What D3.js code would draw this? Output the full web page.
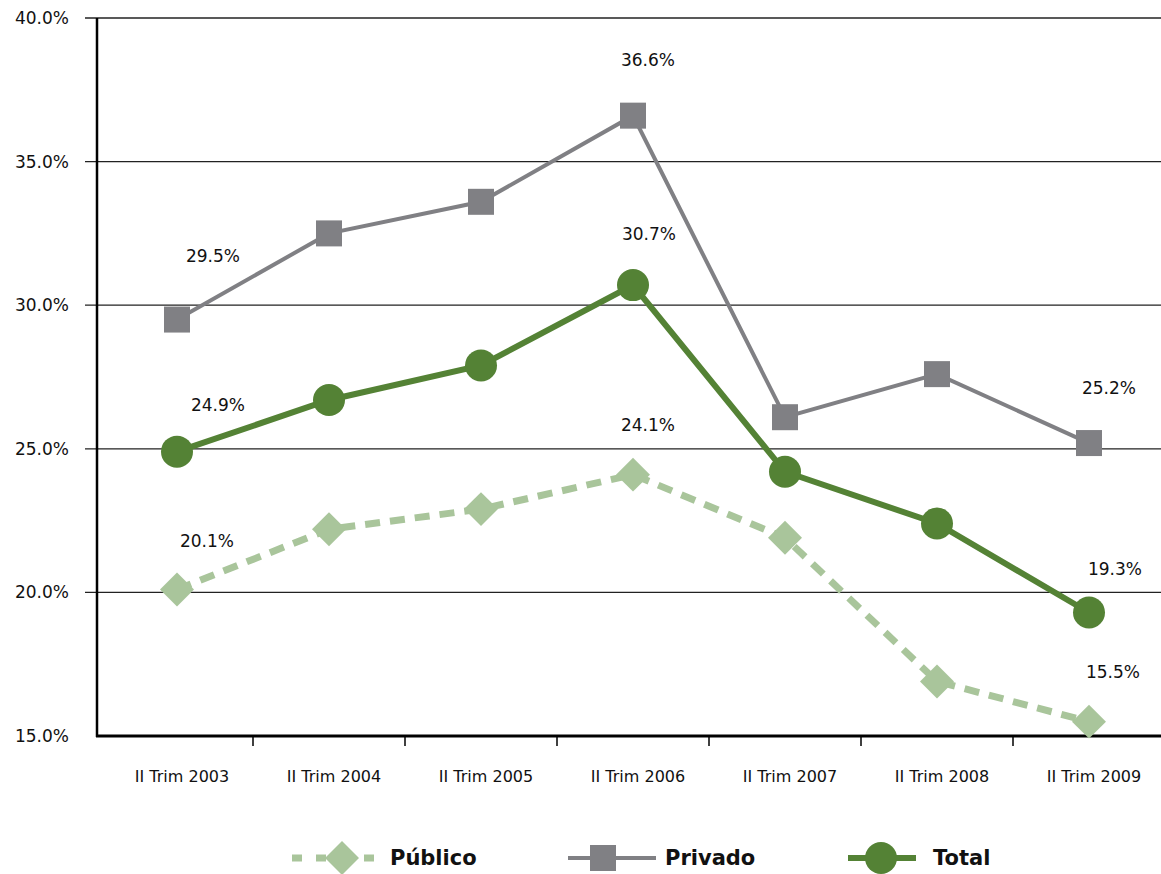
<!DOCTYPE html>
<html><head><meta charset="utf-8">
<script src="https://cdn.jsdelivr.net/npm/d3@7"></script>
<style>body{margin:0;background:#fff;} svg{display:block;}</style>
</head><body>
<svg id="c" width="1161" height="874"></svg>
<script>
const categories = ["II Trim 2003","II Trim 2004","II Trim 2005","II Trim 2006","II Trim 2007","II Trim 2008","II Trim 2009"];
const privado = [29.5, 32.5, 33.6, 36.6, 26.1, 27.6, 25.2];
const total = [24.9, 26.7, 27.9, 30.7, 24.2, 22.4, 19.3];
const publico = [20.1, 22.2, 22.9, 24.1, 21.9, 16.9, 15.5];
const labelIdx = [0, 3, 6];
const yTicks = [15, 20, 25, 30, 35, 40];

const svg = d3.select("#c");
const font = "'DejaVu Sans', sans-serif";
const x = d3.scaleBand().domain(categories).range([101, 1165]);
const y = d3.scaleLinear().domain([15, 40]).range([736, 18]);
const cx = c => x(c) + x.bandwidth()/2;

// gridlines
svg.append("g").selectAll("line").data(yTicks.filter(t => t > 15)).join("line")
  .attr("x1", 85).attr("x2", 1161).attr("y1", d => y(d)).attr("y2", d => y(d))
  .attr("stroke", "#222").attr("stroke-width", 1.3);
// y labels
svg.append("g").selectAll("text").data(yTicks).join("text")
  .attr("x", 69).attr("y", d => y(d)).attr("dy", "0.35em").attr("text-anchor", "end")
  .attr("font-family", font).attr("font-size", 17).attr("fill", "#111")
  .text(d => d.toFixed(1) + "%");
// left axis
svg.append("line").attr("x1", 97).attr("x2", 97).attr("y1", 18).attr("y2", 737)
  .attr("stroke", "#000").attr("stroke-width", 2.5);
// bottom axis
svg.append("line").attr("x1", 96).attr("x2", 1161).attr("y1", 736).attr("y2", 736)
  .attr("stroke", "#000").attr("stroke-width", 3);
svg.append("g").selectAll("line").data(categories.slice(1)).join("line")
  .attr("x1", d => x(d)).attr("x2", d => x(d)).attr("y1", 736).attr("y2", 746)
  .attr("stroke", "#000").attr("stroke-width", 1.5);
svg.append("g").selectAll("text").data(categories).join("text")
  .attr("x", d => cx(d) + 5).attr("y", 782).attr("text-anchor", "middle")
  .attr("font-family", font).attr("font-size", 16).attr("fill", "#111").text(d => d);

const line = d3.line().x((d, i) => cx(categories[i])).y(d => y(d));
const cPriv = "#808084", cTot = "#548235", cPub = "#a9c59b";

// Público
svg.append("path").datum(publico).attr("d", line).attr("fill", "none")
  .attr("stroke", cPub).attr("stroke-width", 7).attr("stroke-dasharray", "15,10");
// Privado
svg.append("path").datum(privado).attr("d", line).attr("fill", "none")
  .attr("stroke", cPriv).attr("stroke-width", 4);
// Total
svg.append("path").datum(total).attr("d", line).attr("fill", "none")
  .attr("stroke", cTot).attr("stroke-width", 6);

const diamond = d3.symbol().type(d3.symbolSquare).size(24*24);
svg.append("g").selectAll("path").data(publico).join("path")
  .attr("d", diamond).attr("fill", cPub)
  .attr("transform", (d, i) => `translate(${cx(categories[i])},${y(d)}) rotate(45)`);
svg.append("g").selectAll("rect").data(privado).join("rect")
  .attr("x", (d, i) => cx(categories[i]) - 13).attr("y", d => y(d) - 13)
  .attr("width", 26).attr("height", 26).attr("fill", cPriv);
svg.append("g").selectAll("circle").data(total).join("circle")
  .attr("cx", (d, i) => cx(categories[i])).attr("cy", d => y(d)).attr("r", 16).attr("fill", cTot);

// data labels
const lblOff = {privado: [[36,-64],[15,-56],[20,-55]], total: [[41,-47],[16,-51],[26,-43]], publico: [[30,-48],[15,-50],[24,-50]]};
function labels(arr, offs) {
  svg.append("g").selectAll("text").data(labelIdx).join("text")
    .attr("x", (i, k) => cx(categories[i]) + offs[k][0]).attr("y", (i, k) => y(arr[i]) + offs[k][1])
    .attr("dy", "0.35em").attr("text-anchor", "middle")
    .attr("font-family", font).attr("font-size", 17).attr("fill", "#111")
    .text(i => arr[i].toFixed(1) + "%");
}
labels(privado, lblOff.privado);
labels(total, lblOff.total);
labels(publico, lblOff.publico);

// legend
const ly = 858;
const lg = svg.append("g");
lg.append("line").attr("x1", 292).attr("x2", 385).attr("y1", ly).attr("y2", ly)
  .attr("stroke", cPub).attr("stroke-width", 7).attr("stroke-dasharray", "10,14");
lg.append("path").attr("d", diamond).attr("fill", cPub).attr("transform", `translate(342,${ly}) rotate(45)`);
lg.append("text").attr("x", 390).attr("y", ly).attr("dy", "0.35em").attr("font-family", font)
  .attr("font-weight", "bold").attr("font-size", 21).attr("fill", "#111").text("Público");
lg.append("line").attr("x1", 568).attr("x2", 656).attr("y1", ly).attr("y2", ly)
  .attr("stroke", cPriv).attr("stroke-width", 4);
lg.append("rect").attr("x", 590).attr("y", ly - 13).attr("width", 26).attr("height", 26).attr("fill", cPriv);
lg.append("text").attr("x", 665).attr("y", ly).attr("dy", "0.35em").attr("font-family", font)
  .attr("font-weight", "bold").attr("font-size", 21).attr("fill", "#111").text("Privado");
lg.append("line").attr("x1", 848).attr("x2", 916).attr("y1", ly).attr("y2", ly)
  .attr("stroke", cTot).attr("stroke-width", 6);
lg.append("circle").attr("cx", 881).attr("cy", ly).attr("r", 16).attr("fill", cTot);
lg.append("text").attr("x", 933).attr("y", ly).attr("dy", "0.35em").attr("font-family", font)
  .attr("font-weight", "bold").attr("font-size", 21).attr("fill", "#111").text("Total");
</script>
</body></html>
